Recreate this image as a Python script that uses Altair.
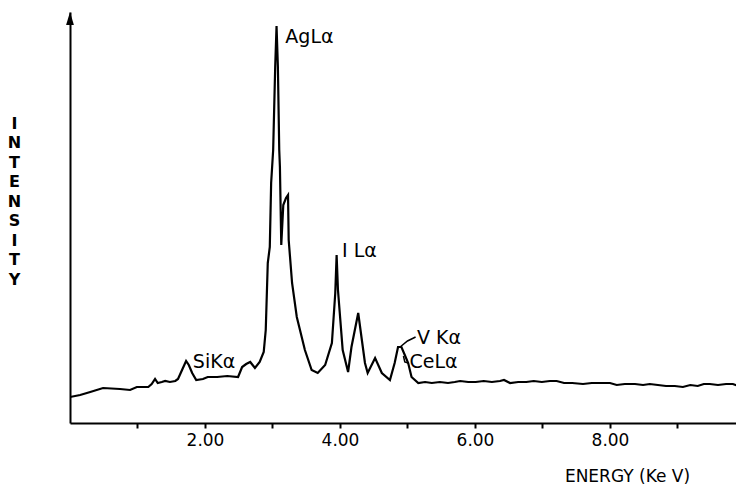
import altair as alt
import pandas as pd

# Spectrum: energy (keV) and intensity (arbitrary units)
energy = [0.00, 0.15, 0.30, 0.49, 0.74, 0.89, 0.99, 1.16, 1.21, 1.26, 1.30, 1.36, 1.41, 1.48,
          1.56, 1.60, 1.66, 1.72, 1.76, 1.81, 1.87, 1.97, 2.04, 2.18, 2.33, 2.49, 2.55, 2.61,
          2.67, 2.74, 2.81, 2.87, 2.90, 2.93, 2.96, 2.98, 3.01, 3.04, 3.06, 3.08, 3.10, 3.11,
          3.13, 3.16, 3.20, 3.23, 3.24, 3.29, 3.36, 3.48, 3.58, 3.67, 3.78, 3.88, 3.93, 3.95,
          3.97, 4.04, 4.12, 4.17, 4.27, 4.37, 4.41, 4.52, 4.62, 4.74, 4.81, 4.86, 4.91, 4.96,
          5.01, 5.06, 5.16, 5.26, 5.36, 5.48, 5.60, 5.70, 5.78, 5.90, 6.01, 6.13, 6.25, 6.37,
          6.43, 6.52, 6.64, 6.76, 6.87, 6.99, 7.11, 7.21, 7.32, 7.44, 7.60, 7.73, 7.85, 8.00,
          8.10, 8.22, 8.37, 8.49, 8.59, 8.71, 8.83, 8.96, 9.08, 9.19, 9.30, 9.39, 9.48, 9.60,
          9.72, 9.82, 9.90, 9.99]
intensity = [26, 28, 31, 35, 34, 33, 36, 36, 39, 44, 40, 41, 42, 41,
             42, 44, 53, 62, 58, 50, 43, 44, 46, 46, 47, 46, 56, 59,
             61, 55, 61, 71, 93, 160, 176, 240, 273, 356, 397, 356, 273, 256,
             178, 218, 225, 228, 183, 140, 106, 73, 53, 50, 58, 80, 130, 168,
             133, 73, 51, 76, 110, 60, 50, 65, 50, 43, 60, 76, 76, 68,
             60, 46, 40, 41, 40, 41, 40, 41, 42, 41, 41, 42, 41, 42,
             43, 40, 41, 41, 42, 41, 42, 42, 40, 40, 39, 40, 40, 40,
             38, 39, 39, 38, 39, 38, 37, 37, 36, 38, 37, 39, 39, 38,
             39, 39, 37, 37]

# Peak labels
label_text = ["AgLα", "I Lα", "SiKα", "V Kα", "CeLα"]
label_energy = [3.19, 4.03, 1.82, 5.14, 5.03]
label_intensity = [386, 172, 61, 85, 61]

# Leader strokes beside the V and Ce labels
leader_id = ["v", "v", "v", "ce", "ce", "ce"]
leader_energy = [4.89, 5.00, 5.12, 4.94, 4.96, 5.01]
leader_intensity = [76, 82, 86, 67, 61, 60]

tick_values = [1, 2, 3, 4, 5, 6, 7, 8, 9]
x_max = 9.867
y_max = 411

FONT = "DejaVu Sans"

spec = pd.DataFrame({"energy": energy, "intensity": intensity})
labels = pd.DataFrame({"text": label_text, "energy": label_energy, "intensity": label_intensity})
leaders = pd.DataFrame({"id": leader_id, "energy": leader_energy, "intensity": leader_intensity})
arrow = pd.DataFrame({"energy": [0.0], "intensity": [y_max - 6.5]})

xscale = alt.Scale(domain=[0, x_max], nice=False, zero=False)
yscale = alt.Scale(domain=[0, y_max], nice=False)

xaxis = alt.Axis(
    values=tick_values,
    labelExpr="datum.value % 2 == 0 ? format(datum.value, '.2f') : ''",
    labelFont=FONT, labelFontSize=17, labelColor="black", labelPadding=4,
    labelOverlap=False,
    tickColor="black", tickWidth=2, tickSize=5,
    domainColor="black", domainWidth=2, grid=False,
    title="ENERGY (Ke V)", titleFont=FONT, titleFontSize=17, titleFontWeight="normal",
    titleColor="black", titleX=557, titleY=58, titleAlign="center",
    titleBaseline="alphabetic",
)
yaxis = alt.Axis(
    labels=False, ticks=False, grid=False,
    domainColor="black", domainWidth=2,
    title=["I", "N", "T", "E", "N", "S", "I", "T", "Y"],
    titleFont=FONT, titleFontSize=16, titleFontWeight="bold", titleColor="black",
    titleAngle=0, titleX=-56, titleY=103, titleAlign="center", titleBaseline="top",
    titleLineHeight=19.5,
)

line = alt.Chart(spec).mark_line(color="black", strokeWidth=2.2, clip=True).encode(
    x=alt.X("energy:Q", scale=xscale, axis=xaxis),
    y=alt.Y("intensity:Q", scale=yscale, axis=yaxis),
)

arrow_mark = alt.Chart(arrow).mark_point(
    shape="M0,-1L0.6,1L-0.6,1Z", filled=True, color="black", size=169, opacity=1
).encode(x=alt.X("energy:Q", scale=xscale), y=alt.Y("intensity:Q", scale=yscale))

text = alt.Chart(labels).mark_text(
    align="left", baseline="middle", font=FONT, fontSize=19, color="black"
).encode(
    x=alt.X("energy:Q", scale=xscale),
    y=alt.Y("intensity:Q", scale=yscale),
    text="text:N",
)

leader_lines = alt.Chart(leaders).mark_line(color="black", strokeWidth=1.5).encode(
    x=alt.X("energy:Q", scale=xscale),
    y=alt.Y("intensity:Q", scale=yscale),
    detail="id:N",
)

chart = alt.layer(line, leader_lines, arrow_mark, text).properties(
    width=666,
    height=411,
    padding={"left": 62, "top": 4, "right": 0, "bottom": 61},
    autosize=alt.AutoSizeParams(type="none"),
    background="white",
).configure_view(strokeWidth=0)

chart.save("out.html", embed_options={"renderer": "svg", "actions": False})
